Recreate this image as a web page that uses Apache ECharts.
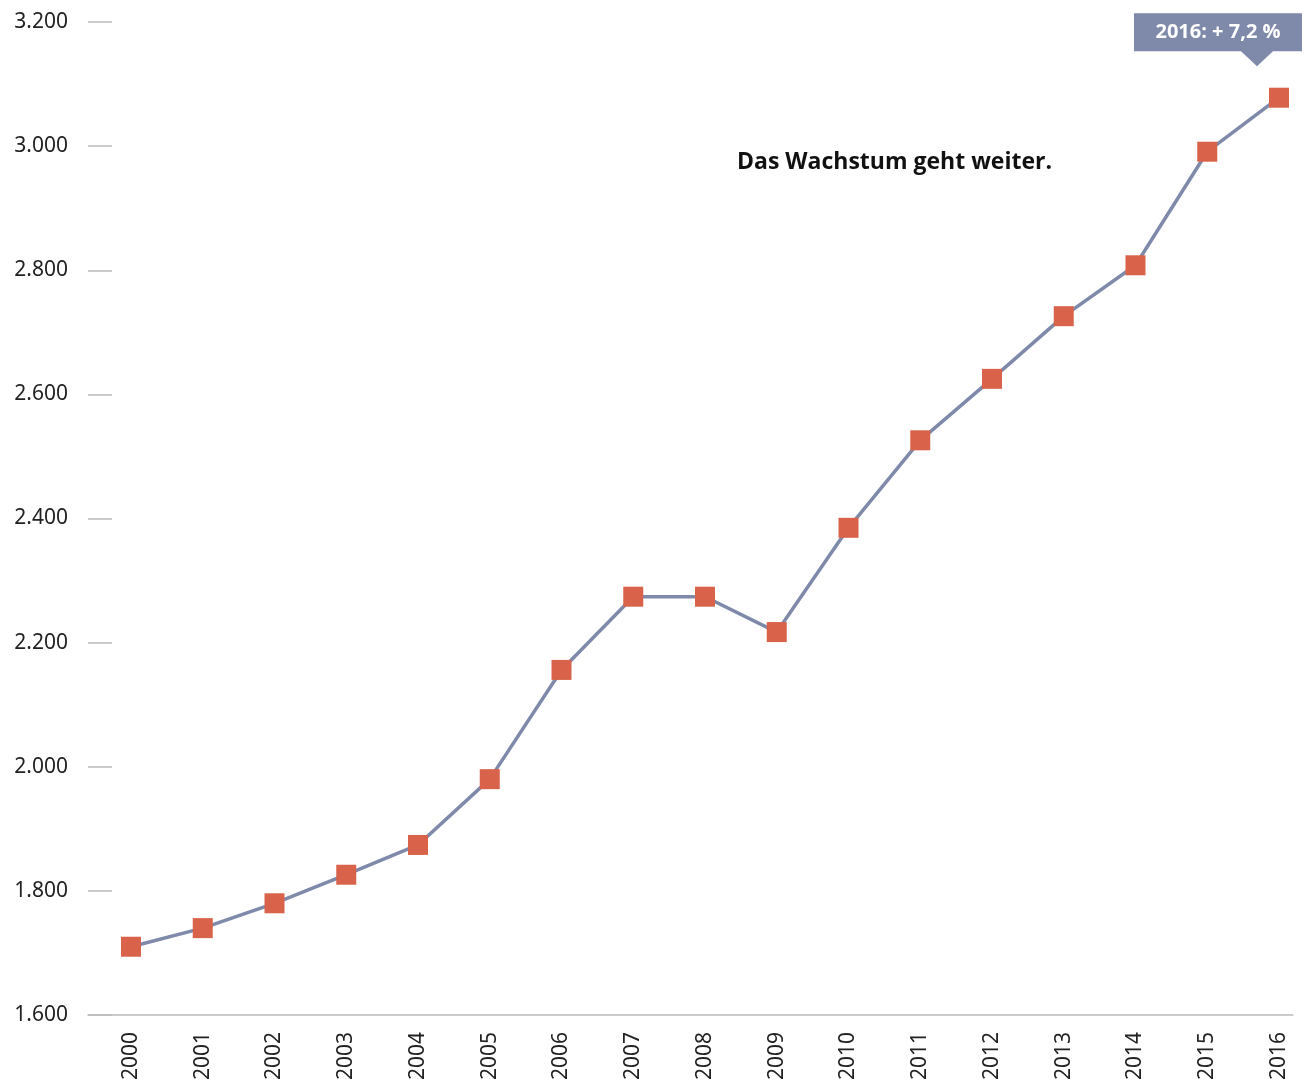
<!DOCTYPE html>
<html>
<head>
<meta charset="utf-8">
<script src="https://cdn.jsdelivr.net/npm/echarts@6/dist/echarts.min.js"></script>
<style>html,body{margin:0;padding:0;background:#fff}#c{width:1309px;height:1079px}</style>
</head>
<body>
<div id="c"></div>
<script>
var years = ['2000','2001','2002','2003','2004','2005','2006','2007','2008','2009','2010','2011','2012','2013','2014','2015','2016'];
var values = [1710,1740,1780,1826,1874,1980,2156,2274,2274,2217,2385,2526,2625,2726,2808,2991,3078];
var yMin = 1600, yMax = 3200, yStep = 200;
var titleText = 'Das Wachstum geht weiter.';
var calloutText = '2016: + 7,2 %';

function fmt(v){ return String(v).replace(/\B(?=(\d{3})+(?!\d))/g, '.'); }

var chart = echarts.init(document.getElementById('c'), null, {renderer:'canvas'});
var font = 'Noto Sans';
chart.setOption({
  animation:false,
  backgroundColor:'#fff',
  title:{text:titleText,left:732,top:146,textStyle:{fontFamily:'Open Sans',fontWeight:'bold',fontSize:23,color:'#111'}},
  grid:[
    {left:88,right:16,top:22,bottom:64,containLabel:false,outerBoundsMode:'none'},
    {left:131,right:30,top:22,bottom:64,containLabel:false,outerBoundsMode:'none'}
  ],
  xAxis:[
    {gridIndex:0,type:'value',min:0,max:1,axisLine:{show:true,lineStyle:{color:'#bbbbbb',width:1.5}},axisTick:{show:false},axisLabel:{show:false},splitLine:{show:false}},
    {gridIndex:1,type:'category',data:years,boundaryGap:false,axisLine:{show:false},axisTick:{show:false},
     axisLabel:{rotate:90,margin:17,fontFamily:font,fontSize:21,color:'#222'},splitLine:{show:false}}
  ],
  yAxis:[
    {gridIndex:0,type:'value',min:yMin,max:yMax,interval:yStep,axisLine:{show:false},
     axisTick:{show:true,inside:true,length:24,lineStyle:{color:'#bbbbbb',width:1.5}},
     axisLabel:{margin:20,fontFamily:font,fontSize:21,color:'#222',formatter:fmt},splitLine:{show:false}},
    {gridIndex:1,type:'value',min:yMin,max:yMax,interval:yStep,show:false}
  ],
  series:[{
    type:'line',xAxisIndex:1,yAxisIndex:1,data:values,
    symbol:'rect',symbolSize:20,
    lineStyle:{color:'#7f8aab',width:3.5},
    itemStyle:{color:'#d9634a'},
    markPoint:{
      symbol:'path://M0,0 L168,0 L168,38 L139,38 L123,53 L107,38 L0,38 Z',
      symbolSize:[168,53],
      symbolKeepAspect:false,
      symbolOffset:[-61,-58],
      itemStyle:{color:'#7f8aab'},
      label:{show:true,position:'inside',offset:[0,-7],formatter:calloutText,color:'#fff',fontFamily:'Open Sans',fontWeight:'bold',fontSize:20},
      data:[{coord:[years.length-1, values[values.length-1]]}]
    }
  }]
});
</script>
</body>
</html>
